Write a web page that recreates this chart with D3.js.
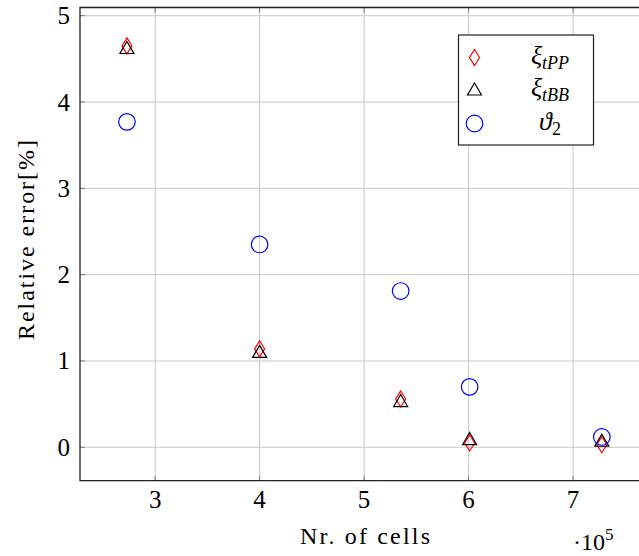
<!DOCTYPE html>
<html>
<head>
<meta charset="utf-8">
<script src="https://cdn.jsdelivr.net/npm/d3@7"></script>
<style>
  body { margin: 0; background: #fff; }
  svg { display: block; font-family: "Liberation Serif", "DejaVu Serif", serif; }
</style>
</head>
<body>
<svg id="chart"></svg>
<script>
// data (cells in units of 1e5, error in %)
const cells = [2.73, 4.0, 5.35, 6.01, 7.275];
const xiTPP = [4.65, 1.14, 0.56, 0.05, 0.03];
const xiTBB = [4.62, 1.10, 0.53, 0.09, 0.07];
const theta2 = [3.77, 2.35, 1.81, 0.70, 0.12];
const xTicks = [3, 4, 5, 6, 7];
const yTicks = [0, 1, 2, 3, 4, 5];

const W = 639, H = 556;
const m = { left: 80, top: 7.5, right: 641, bottom: 480.7 };

const svg = d3.select('#chart').attr('width', W).attr('height', H);

const x = d3.scaleLinear().domain([2.281, 7.65]).range([m.left, m.right]);
const y = d3.scaleLinear().domain([-0.387, 5.095]).range([m.bottom, m.top]);

// grid
svg.append('g').selectAll('line').data(xTicks).enter().append('line')
  .attr('x1', d => x(d)).attr('x2', d => x(d))
  .attr('y1', m.top).attr('y2', m.bottom)
  .attr('stroke', '#c8c8c8').attr('stroke-width', 1);
svg.append('g').selectAll('line').data(yTicks).enter().append('line')
  .attr('y1', d => y(d)).attr('y2', d => y(d))
  .attr('x1', m.left).attr('x2', m.right)
  .attr('stroke', '#c8c8c8').attr('stroke-width', 1);

// inner ticks
const tk = 5;
const ticks = svg.append('g').attr('stroke', '#7a7a7a').attr('stroke-width', 1);
xTicks.forEach(d => {
  ticks.append('line').attr('x1', x(d)).attr('x2', x(d)).attr('y1', m.bottom).attr('y2', m.bottom - tk);
  ticks.append('line').attr('x1', x(d)).attr('x2', x(d)).attr('y1', m.top).attr('y2', m.top + tk);
});
yTicks.forEach(d => {
  ticks.append('line').attr('y1', y(d)).attr('y2', y(d)).attr('x1', m.left).attr('x2', m.left + tk);
});

// frame
svg.append('path')
  .attr('d', `M${m.right},${m.top}H${m.left}V${m.bottom}H${m.right}`)
  .attr('fill', 'none').attr('stroke', '#222').attr('stroke-width', 1.3);

// tick labels
svg.append('g').selectAll('text').data(xTicks).enter().append('text')
  .attr('x', d => x(d)).attr('y', m.bottom + 27)
  .attr('text-anchor', 'middle').attr('font-size', 25).text(d => d);
svg.append('g').selectAll('text').data(yTicks).enter().append('text')
  .attr('x', 70).attr('y', d => y(d) + 8.5)
  .attr('text-anchor', 'end').attr('font-size', 25).text(d => d);

// axis labels
svg.append('text').attr('x', 365).attr('y', 544)
  .attr('text-anchor', 'middle').attr('font-size', 24)
  .attr('textLength', 130).attr('lengthAdjust', 'spacing').text('Nr.  of cells');
const sc = svg.append('text').attr('x', 573).attr('y', 550).attr('font-size', 24);
sc.append('tspan').text('·10');
sc.append('tspan').attr('font-size', 17).attr('dy', -10).text('5');
svg.append('text')
  .attr('transform', 'translate(34,240) rotate(-90)')
  .attr('text-anchor', 'middle').attr('font-size', 24)
  .attr('textLength', 200).attr('lengthAdjust', 'spacing').text('Relative error[%]');

// marker shapes
const diamond = (cx, cy) => `M${cx},${cy - 8}L${cx + 5},${cy}L${cx},${cy + 8}L${cx - 5},${cy}Z`;
const triangle = (cx, cy) => `M${cx},${cy - 7}L${cx + 7},${cy + 5}L${cx - 7},${cy + 5}Z`;

const pts = svg.append('g');
pts.selectAll('.dia').data(cells).enter().append('path')
  .attr('d', (d, i) => diamond(x(d), y(xiTPP[i])))
  .attr('fill', 'none').attr('stroke', 'red').attr('stroke-width', 1.2);
pts.selectAll('.tri').data(cells).enter().append('path')
  .attr('d', (d, i) => triangle(x(d), y(xiTBB[i])))
  .attr('fill', 'none').attr('stroke', 'black').attr('stroke-width', 1.2);
pts.selectAll('circle').data(cells).enter().append('circle')
  .attr('cx', d => x(d)).attr('cy', (d, i) => y(theta2[i])).attr('r', 8.3)
  .attr('fill', 'none').attr('stroke', 'blue').attr('stroke-width', 1.2);

// legend
const lg = svg.append('g');
lg.append('rect').attr('x', 458.5).attr('y', 35).attr('width', 135).attr('height', 110)
  .attr('fill', '#fff').attr('stroke', '#222').attr('stroke-width', 1.2);
const lx = 474.5, ly = [57.5, 90, 123.5];
lg.append('path').attr('d', diamond(lx, ly[0])).attr('fill', 'none').attr('stroke', 'red').attr('stroke-width', 1.2);
lg.append('path').attr('d', triangle(lx, ly[1])).attr('fill', 'none').attr('stroke', 'black').attr('stroke-width', 1.2);
lg.append('circle').attr('cx', lx).attr('cy', ly[2]).attr('r', 8.3).attr('fill', 'none').attr('stroke', 'blue').attr('stroke-width', 1.2);

const labels = [['ξ', 'tPP'], ['ξ', 'tBB'], ['ϑ', '2']];
labels.forEach((l, i) => {
  const t = lg.append('text').attr('x', 550).attr('y', ly[i] + 6)
    .attr('text-anchor', 'middle').attr('font-size', 26).attr('font-style', 'italic');
  t.append('tspan').text(l[0]);
  t.append('tspan').attr('font-size', 18).attr('dy', 5)
    .attr('font-style', i === 2 ? 'normal' : 'italic').text(l[1]);
});
</script>
</body>
</html>
